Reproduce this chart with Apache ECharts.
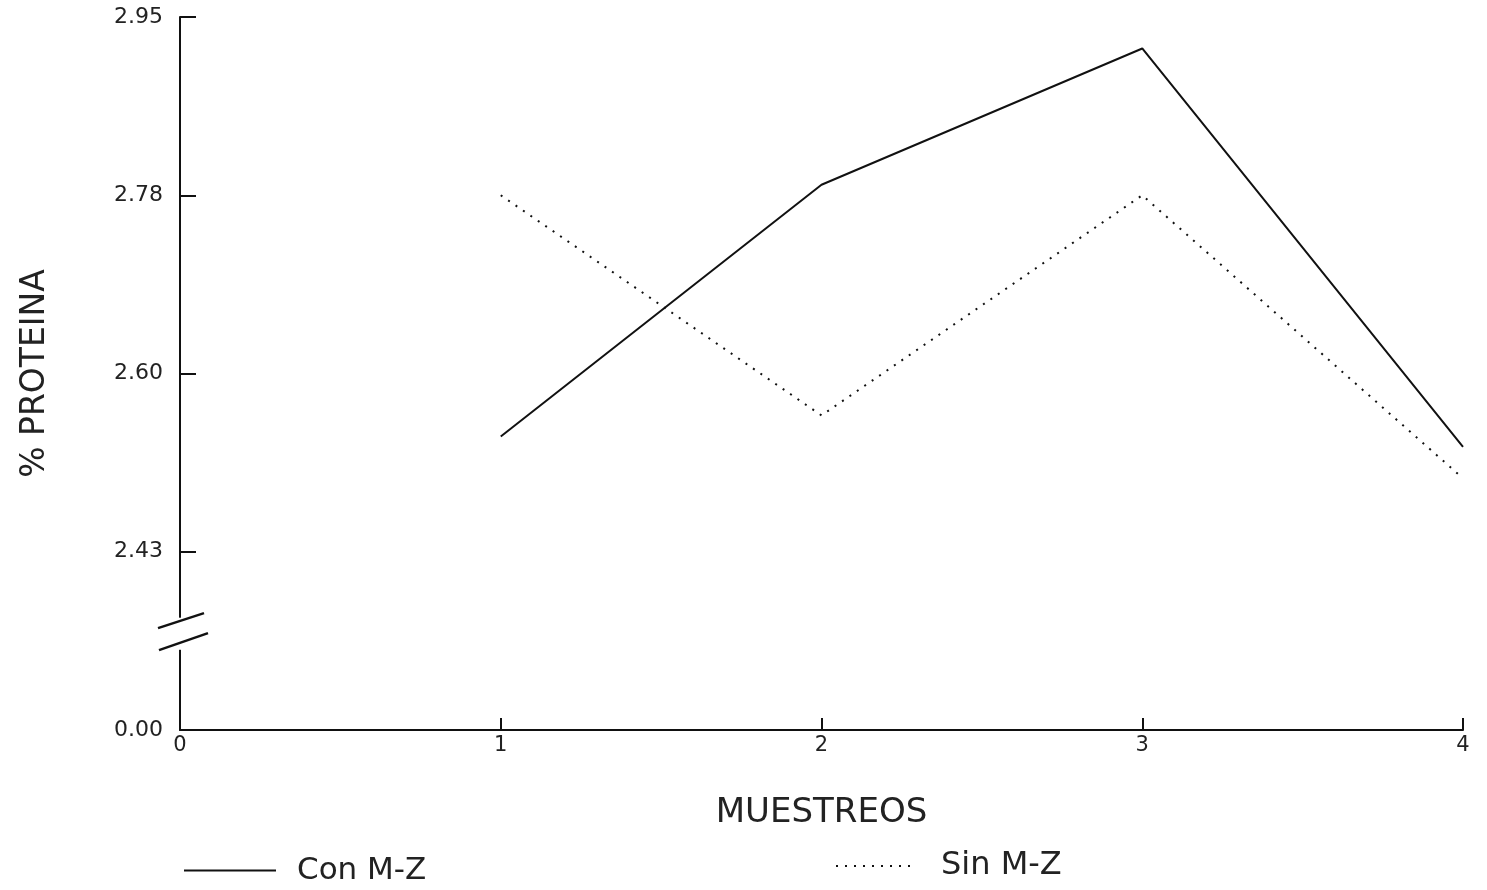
<!DOCTYPE html>
<html>
<head>
<meta charset="utf-8">
<script src="https://cdn.jsdelivr.net/npm/echarts@6/dist/echarts.min.js"></script>
<style>
  html, body { margin: 0; padding: 0; background: #fff; }
  #chart { width: 1487px; height: 890px; }
</style>
</head>
<body>
<div id="chart"></div>
<script>
const muestreos = [1, 2, 3, 4]
const xTickLabels = ['0', '1', '2', '3', '4']
// broken axis: evenly spaced ticks, 0.00 then 2.43 .. 2.95
const yTickValues = [0, 2.43, 2.60, 2.78, 2.95]
const yTickLabels = ['0.00', '2.43', '2.60', '2.78', '2.95']
const conMZ = [2.54, 2.79, 2.92, 2.53]
const sinMZ = [2.78, 2.56, 2.78, 2.50]

// piecewise map of a real value onto the evenly spaced tick positions
const toAxis = (v) => {
  for (let i = 1; i < yTickValues.length; i++) {
    if (v <= yTickValues[i]) {
      const a = yTickValues[i - 1], b = yTickValues[i]
      return i - 1 + (v - a) / (b - a)
    }
  }
  return yTickValues.length - 1
}

const chart = echarts.init(document.getElementById('chart'))
const font = 'DejaVu Sans'
const ink = '#111'
const textInk = '#222'

const option = {
  animation: false,
  backgroundColor: '#fff',
  grid: { left: 180, right: 24, top: 17, bottom: 160 },
  legend: [
    {
      data: ['Con M-Z'], left: 178, top: 850,
      itemWidth: 92, itemHeight: 14,
      itemStyle: { opacity: 0 },
      textStyle: { fontFamily: font, fontSize: 31, color: textInk, padding: [0, 0, 0, 16] }
    },
    {
      data: ['Sin M-Z'], left: 830, top: 845,
      itemWidth: 76, itemHeight: 14,
      itemStyle: { opacity: 0 },
      textStyle: { fontFamily: font, fontSize: 32, color: textInk, padding: [0, 0, 0, 24] }
    }
  ],
  xAxis: {
    type: 'value', min: 0, max: 4, interval: 1,
    name: 'MUESTREOS', nameLocation: 'middle', nameGap: 66,
    nameTextStyle: { fontFamily: font, fontSize: 34, color: textInk },
    axisLine: { lineStyle: { color: ink, width: 2 } },
    axisTick: { inside: true, length: 12, lineStyle: { color: ink, width: 2 } },
    axisLabel: {
      fontFamily: font, fontSize: 21, color: textInk, margin: 5,
      formatter: (v) => xTickLabels[v]
    },
    splitLine: { show: false }
  },
  yAxis: {
    type: 'value', min: 0, max: 4, interval: 1,
    name: '% PROTEINA', nameLocation: 'middle', nameGap: 128, nameRotate: 90,
    nameTextStyle: { fontFamily: font, fontSize: 33, color: textInk },
    axisLine: { show: true, lineStyle: { color: ink, width: 2 } },
    axisTick: { show: true, inside: true, length: 16, lineStyle: { color: ink, width: 2 } },
    axisLabel: {
      fontFamily: font, fontSize: 22, color: textInk, margin: 17,
      formatter: (v) => yTickLabels[v]
    },
    splitLine: { show: false }
  },
  series: [
    {
      name: 'Con M-Z', type: 'line', symbol: 'none',
      data: muestreos.map((x, i) => [x, toAxis(conMZ[i])]),
      lineStyle: { color: ink, width: 2, type: 'solid' },
      itemStyle: { color: ink }
    },
    {
      name: 'Sin M-Z', type: 'line', symbol: 'none',
      data: muestreos.map((x, i) => [x, toAxis(sinMZ[i])]),
      lineStyle: { color: ink, width: 2, type: [2, 7] },
      itemStyle: { color: ink }
    }
  ]
}

chart.setOption(option)

// axis break mark, placed from the axis scale
const breakTop = chart.convertToPixel({ gridIndex: 0 }, [0, 0.63])
const breakBot = chart.convertToPixel({ gridIndex: 0 }, [0, 0.45])
const breakMid = chart.convertToPixel({ gridIndex: 0 }, [0, 0.56])
chart.setOption({
  graphic: [
    { type: 'rect', shape: { x: breakTop[0] - 4, y: breakTop[1], width: 8, height: breakBot[1] - breakTop[1] },
      style: { fill: '#fff' }, z: 100 },
    { type: 'line', shape: { x1: breakMid[0] - 22, y1: breakMid[1] - 2, x2: breakMid[0] + 24, y2: breakMid[1] - 17 },
      style: { stroke: ink, lineWidth: 2.5 }, z: 101 },
    { type: 'line', shape: { x1: breakMid[0] - 21, y1: breakMid[1] + 20, x2: breakMid[0] + 28, y2: breakMid[1] + 3 },
      style: { stroke: ink, lineWidth: 2.5 }, z: 101 }
  ]
})

window.addEventListener('resize', () => chart.resize())
</script>
</body>
</html>
